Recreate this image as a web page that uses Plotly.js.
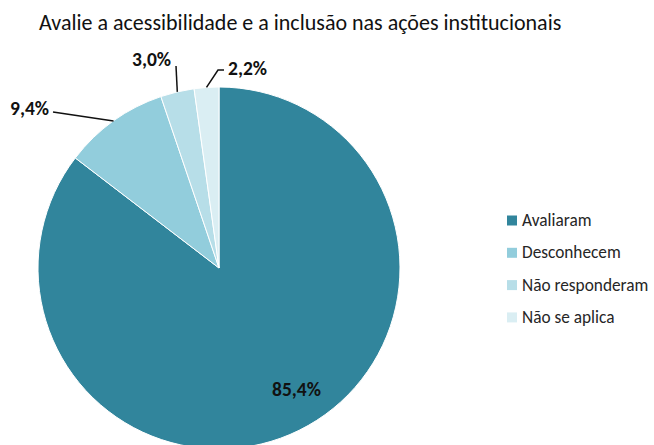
<!DOCTYPE html>
<html>
<head>
<meta charset="utf-8">
<script src="https://cdn.plot.ly/plotly-3.0.1.min.js"></script>
<style>
html,body{margin:0;padding:0;overflow:hidden;background:#fff;}
#chart{width:654px;height:460px;}
</style>
</head>
<body>
<div id="chart"></div>
<script>
const categories = ["Avaliaram", "Desconhecem", "Não responderam", "Não se aplica"];
const values = [85.4, 9.4, 3.0, 2.2];
const colors = ["#31859C", "#92CDDC", "#B7DEE8", "#DAEEF3"];
const chartTitle = "Avalie a acessibilidade e a inclusão nas ações institucionais";

const W = 654, H = 460;
const FONT = "Carlito, 'Liberation Sans Narrow', 'Open Sans', sans-serif";
const cx = 219, cy = 268, R = 181;
const px = x => x / W;
const py = y => 1 - y / H;
const fmt = v => v.toFixed(1).replace('.', ',') + '%';

const total = values.reduce((a, b) => a + b, 0);
let cum = 0;
const mids = values.map(v => { const m = (cum + v / 2) / total * 2 * Math.PI; cum += v; return m; });
const edge = (ang, r) => [cx + r * Math.sin(ang), cy - r * Math.cos(ang)];

const annotations = [];
const shapes = [];

// big slice label (inside)
annotations.push({xref:'paper', yref:'paper', x: px(296), y: py(389), text: '<b>' + fmt(values[0]) + '</b>',
  showarrow:false, xanchor:'center', yanchor:'middle', font:{family:FONT, size:19.5, color:'#111'}});

// outside labels with leader lines
const leaders = [
  null,
  {pts: [[53, 112]], tx: 51, ty: 108, anchor: 'right'},
  {pts: [[176, 66]], tx: 173, ty: 59, anchor: 'right'},
  {pts: [[218, 70], [224, 70]], tx: 226, ty: 68, anchor: 'left'}
];
for (let i = 1; i < values.length; i++) {
  const L = leaders[i];
  const [sx, sy] = edge(mids[i], R);
  let d = 'M ' + px(sx) + ',' + py(sy);
  L.pts.forEach(p => { d += ' L ' + px(p[0]) + ',' + py(p[1]); });
  shapes.push({type:'path', xref:'paper', yref:'paper', path: d, line:{color:'#111', width:1.5}});
  annotations.push({xref:'paper', yref:'paper', x: px(L.tx), y: py(L.ty), text: '<b>' + fmt(values[i]) + '</b>',
    showarrow:false, xanchor: L.anchor, yanchor:'middle', font:{family:FONT, size:19.5, color:'#111'}});
}
// legend
const legY0 = 220.5, legStep = 32.3;
categories.forEach((c, i) => {
  const y = legY0 + i * legStep;
  shapes.push({type:'rect', xref:'paper', yref:'paper', x0: px(507), x1: px(517), y0: py(y - 5), y1: py(y + 5),
    fillcolor: colors[i], line:{width:0}});
  annotations.push({xref:'paper', yref:'paper', x: px(520), y: py(y), text: c, showarrow:false,
    xanchor:'left', yanchor:'middle', font:{family:FONT, size:17.3, color:'#262626'}});
});

const data = [{
  type:'pie', values: values, labels: categories, sort:false, direction:'clockwise', rotation:0,
  marker:{colors: colors, line:{color:'#fff', width:1}},
  textinfo:'none', hoverinfo:'label+percent',
  domain:{x:[px(cx - R), px(cx + R)], y:[py(cy + R), py(cy - R)]}
}];

const layout = {
  width: W, height: H, margin:{l:0, r:0, t:0, b:0},
  paper_bgcolor:'#fff', showlegend:false,
  title:{text: chartTitle, x: px(39), xanchor:'left', y: py(22), yanchor:'middle', xref:'paper', yref:'paper',
    font:{family:FONT, size:22, color:'#111'}},
  annotations: annotations, shapes: shapes
};

Plotly.newPlot('chart', data, layout, {displayModeBar:false, staticPlot:true});
</script>
</body>
</html>
